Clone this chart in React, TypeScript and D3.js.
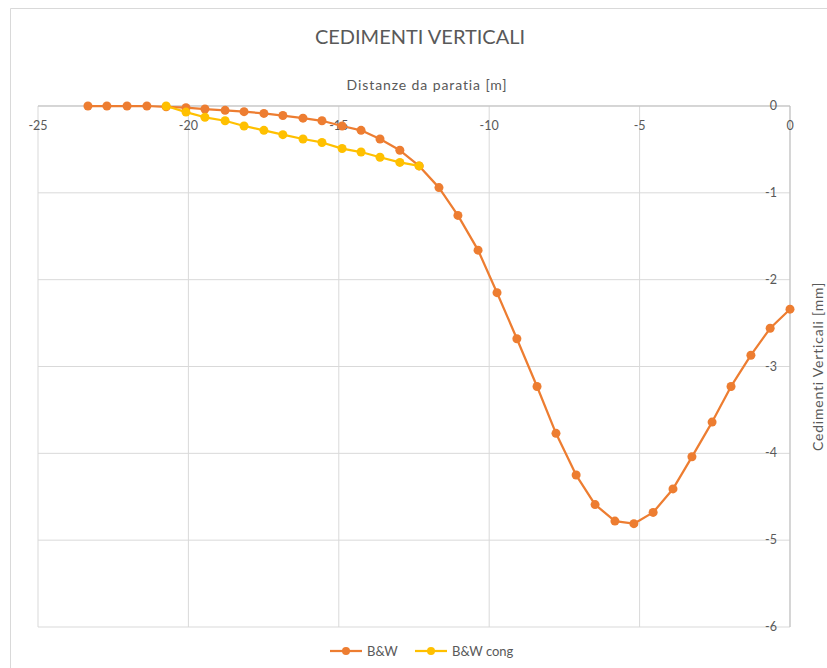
import React from "react";
import * as d3 from "d3";

const xTicks = [-25, -20, -15, -10, -5, 0];
const yTicks = [0, -1, -2, -3, -4, -5, -6];

const bwX = [-23.34, -22.71, -22.04, -21.38, -20.74, -20.08, -19.45, -18.78, -18.15, -17.49, -16.86, -16.19, -15.56, -14.89, -14.26, -13.63, -12.97, -12.33, -11.67, -11.04, -10.37, -9.74, -9.08, -8.41, -7.78, -7.11, -6.48, -5.82, -5.19, -4.55, -3.89, -3.26, -2.59, -1.96, -1.3, -0.66, 0];
const bwY = [0, 0, 0, 0, -0.01, -0.02, -0.035, -0.05, -0.065, -0.085, -0.11, -0.14, -0.17, -0.23, -0.28, -0.38, -0.51, -0.69, -0.94, -1.26, -1.66, -2.15, -2.68, -3.23, -3.77, -4.25, -4.59, -4.78, -4.81, -4.68, -4.41, -4.04, -3.64, -3.23, -2.87, -2.56, -2.34];

const congX = [-20.74, -20.08, -19.45, -18.78, -18.15, -17.49, -16.86, -16.19, -15.56, -14.89, -14.26, -13.63, -12.97, -12.33];
const congY = [0, -0.07, -0.13, -0.17, -0.23, -0.28, -0.33, -0.38, -0.42, -0.49, -0.53, -0.59, -0.65, -0.69];

const W = 827;
const H = 668;
const FONT = "Lato, 'Open Sans', sans-serif";
const TXT = "#595959";

export default function App() {
  const x = d3.scaleLinear().domain([-25, 0]).range([38, 790]);
  const y = d3.scaleLinear().domain([0, -6]).range([106, 627]);
  const line = d3
    .line<[number, number]>()
    .x((d) => x(d[0]))
    .y((d) => y(d[1]));
  const bw: [number, number][] = bwX.map((v, i) => [v, bwY[i]]);
  const cong: [number, number][] = congX.map((v, i) => [v, congY[i]]);

  const series = [
    { name: "B&W", data: bw, color: "#ED7D31" },
    { name: "B&W cong", data: cong, color: "#FFC000" },
  ];

  return (
    <svg
      width={W}
      height={H}
      style={{ position: "absolute", left: 0, top: 0, display: "block" }}
      fontFamily={FONT}
    >
      <rect x={0} y={0} width={W} height={H} fill="#fff" />
      <line x1={10.5} y1={8.5} x2={W} y2={8.5} stroke="#d9d9d9" strokeWidth={1} />
      <line x1={10.5} y1={8.5} x2={10.5} y2={H} stroke="#d9d9d9" strokeWidth={1} />

      <text x={420} y={44} textAnchor="middle" fontSize={20} fill={TXT}>
        CEDIMENTI VERTICALI
      </text>
      <text x={427} y={90} textAnchor="middle" fontSize={14} letterSpacing={0.9} fill={TXT}>
        Distanze da paratia [m]
      </text>
      <text
        transform={`translate(823,${y(-3)}) rotate(-90)`}
        textAnchor="middle"
        fontSize={14}
        letterSpacing={0.8}
        fill={TXT}
      >
        Cedimenti Verticali [mm]
      </text>

      {xTicks.map((t) => (
        <line key={"gx" + t} x1={x(t)} x2={x(t)} y1={y(0)} y2={y(-6)} stroke="#d9d9d9" strokeWidth={1} />
      ))}
      {yTicks.map((t) => (
        <line key={"gy" + t} x1={x(-25)} x2={x(0)} y1={y(t)} y2={y(t)} stroke="#d9d9d9" strokeWidth={1} />
      ))}
      <line x1={x(-25)} x2={x(0)} y1={y(0)} y2={y(0)} stroke="#bfbfbf" strokeWidth={1} />
      <line x1={x(0)} x2={x(0)} y1={y(0)} y2={y(-6)} stroke="#bfbfbf" strokeWidth={1} />

      {xTicks.map((t) => (
        <text key={"tx" + t} x={x(t)} y={y(0) + 24} textAnchor="middle" fontSize={12.5} fill={TXT}>
          {t}
        </text>
      ))}
      {yTicks.map((t) => (
        <text key={"ty" + t} x={x(0) - 13} y={y(t) + 4} textAnchor="end" fontSize={12.5} fill={TXT}>
          {t}
        </text>
      ))}

      {series.map((s) => (
        <g key={s.name}>
          <path d={line(s.data) || ""} fill="none" stroke={s.color} strokeWidth={2.25} strokeLinejoin="round" />
          {s.data.map((d, i) => (
            <circle key={i} cx={x(d[0])} cy={y(d[1])} r={4.5} fill={s.color} />
          ))}
        </g>
      ))}

      {series.map((s, i) => {
        const lx = i === 0 ? 330 : 415;
        const ly = 651;
        return (
          <g key={"lg" + s.name}>
            <line x1={lx} x2={lx + 32} y1={ly} y2={ly} stroke={s.color} strokeWidth={2.25} />
            <circle cx={lx + 16} cy={ly} r={4} fill={s.color} />
            <text x={lx + 37} y={ly + 4.5} fontSize={13} fill={TXT}>
              {s.name}
            </text>
          </g>
        );
      })}
    </svg>
  );
}
